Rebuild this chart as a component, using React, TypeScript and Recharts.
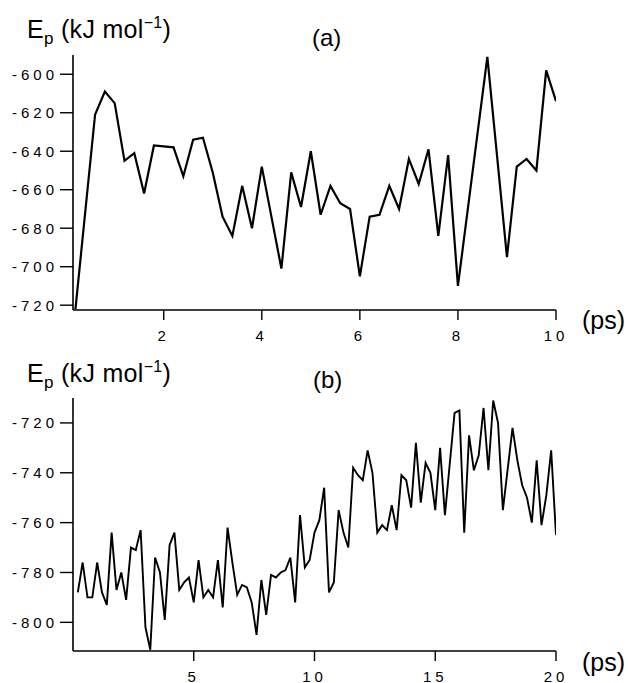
import React from "react";
import { LineChart, Line, XAxis, YAxis } from "recharts";

const timeA = [0.2, 0.6, 0.8, 1.0, 1.2, 1.4, 1.6, 1.8, 2.2, 2.4, 2.6, 2.8, 3.0, 3.2, 3.4, 3.6, 3.8, 4.0, 4.4, 4.6, 4.8, 5.0, 5.2, 5.4, 5.6, 5.8, 6.0, 6.2, 6.4, 6.6, 6.8, 7.0, 7.2, 7.4, 7.6, 7.8, 8.0, 8.6, 9.0, 9.2, 9.4, 9.6, 9.8, 10.0];
const energyA = [-722, -621, -609, -615, -645, -641, -662, -637, -638, -653, -634, -633, -651, -674, -684, -658, -680, -648, -701, -651, -669, -640, -673, -658, -667, -670, -705, -674, -673, -658, -670, -644, -657, -639, -684, -642, -710, -591, -695, -648, -644, -650, -598, -614];

const timeB = [0.2, 0.4, 0.6, 0.8, 1.0, 1.2, 1.4, 1.6, 1.8, 2.0, 2.2, 2.4, 2.6, 2.8, 3.0, 3.2, 3.4, 3.6, 3.8, 4.0, 4.2, 4.4, 4.6, 4.8, 5.0, 5.2, 5.4, 5.6, 5.8, 6.0, 6.2, 6.4, 6.6, 6.8, 7.0, 7.2, 7.4, 7.6, 7.8, 8.0, 8.2, 8.4, 8.6, 8.8, 9.0, 9.2, 9.4, 9.6, 9.8, 10.0, 10.2, 10.4, 10.6, 10.8, 11.0, 11.2, 11.4, 11.6, 11.8, 12.0, 12.2, 12.4, 12.6, 12.8, 13.0, 13.2, 13.4, 13.6, 13.8, 14.0, 14.2, 14.4, 14.6, 14.8, 15.0, 15.2, 15.4, 15.8, 16.0, 16.2, 16.4, 16.6, 16.8, 17.0, 17.2, 17.4, 17.6, 17.8, 18.2, 18.4, 18.6, 18.8, 19.0, 19.2, 19.4, 19.6, 19.8, 20.0];
const energyB = [-788, -776, -790, -790, -776, -788, -793, -764, -787, -780, -791, -770, -771, -763, -802, -811, -774, -780, -799, -769, -764, -787, -784, -782, -792, -775, -790, -787, -790, -775, -794, -762, -776, -789, -785, -786, -792, -805, -783, -797, -781, -782, -780, -779, -774, -792, -757, -778, -775, -764, -759, -746, -788, -784, -755, -764, -770, -738, -741, -743, -731, -740, -764, -761, -763, -753, -763, -741, -743, -754, -728, -752, -736, -740, -755, -730, -757, -716, -715, -764, -725, -739, -733, -714, -739, -711, -720, -755, -722, -735, -745, -750, -760, -735, -761, -749, -731, -765];

const ticksXA = [2, 4, 6, 8, 10];
const ticksYA = [-720, -700, -680, -660, -640, -620, -600];
const ticksXB = [5, 10, 15, 20];
const ticksYB = [-800, -780, -760, -740, -720];

const dataA = timeA.map((t, i) => ({ t, e: energyA[i] }));
const dataB = timeB.map((t, i) => ({ t, e: energyB[i] }));

const FONT = '"Liberation Sans", Arial, Helvetica, sans-serif';
const tickStyle = { fill: "#000", fontSize: 15, fontFamily: FONT, letterSpacing: 4 };
const axisLine = { stroke: "#000", strokeWidth: 1.6 };
const tickLine = { stroke: "#000", strokeWidth: 1.4 };

function Title({ top }: { top: number }) {
  return (
    <div style={{ position: "absolute", left: 27, top, fontSize: 25, fontFamily: FONT, whiteSpace: "nowrap", lineHeight: "normal", letterSpacing: 0.3 }}>
      E<span style={{ fontSize: 17, position: "relative", top: 6 }}>p</span> (kJ mol
      <span style={{ fontSize: 16, position: "relative", top: -10 }}>−1</span>)
    </div>
  );
}

function Lbl({ left, top, text, size }: { left: number; top: number; text: string; size: number }) {
  return (
    <div style={{ position: "absolute", left, top, fontSize: size, fontFamily: FONT, whiteSpace: "nowrap", lineHeight: "normal" }}>
      {text}
    </div>
  );
}

export default function App() {
  return (
    <div style={{ position: "absolute", left: 0, top: 0, width: 628, height: 683, background: "#fff", overflow: "hidden" }}>
      <div style={{ position: "absolute", left: 0, top: 0 }}>
        <LineChart width={628} height={345} data={dataA} margin={{ top: 55, right: 72, bottom: 5, left: 13 }}>
          <XAxis dataKey="t" type="number" domain={[0.15, 10]} ticks={ticksXA} allowDataOverflow
            height={30} tickSize={10} tickMargin={10} axisLine={axisLine} tickLine={tickLine} tick={tickStyle} interval={0} />
          <YAxis type="number" domain={[-722.5, -590]} ticks={ticksYA} allowDataOverflow
            width={60} tickSize={13} tickMargin={2} axisLine={axisLine} tickLine={tickLine} tick={tickStyle} interval={0} />
          <Line dataKey="e" stroke="#000" strokeWidth={2.2} dot={false} isAnimationActive={false} strokeLinejoin="miter" />
        </LineChart>
      </div>
      <div style={{ position: "absolute", left: 0, top: 340 }}>
        <LineChart width={628} height={343} data={dataB} margin={{ top: 58, right: 72, bottom: 2, left: 13 }}>
          <XAxis dataKey="t" type="number" domain={[0, 20]} ticks={ticksXB} allowDataOverflow
            height={30} tickSize={10} tickMargin={10} axisLine={axisLine} tickLine={tickLine} tick={tickStyle} interval={0} />
          <YAxis type="number" domain={[-811.5, -710]} ticks={ticksYB} allowDataOverflow
            width={60} tickSize={13} tickMargin={2} axisLine={axisLine} tickLine={tickLine} tick={tickStyle} interval={0} />
          <Line dataKey="e" stroke="#000" strokeWidth={1.9} dot={false} isAnimationActive={false} strokeLinejoin="miter" />
        </LineChart>
      </div>
      <Title top={15} />
      <Lbl left={312} top={24} text="(a)" size={24} />
      <Lbl left={582} top={306} text="(ps)" size={25} />
      <Title top={359} />
      <Lbl left={313} top={366} text="(b)" size={24} />
      <Lbl left={582} top={648} text="(ps)" size={25} />
    </div>
  );
}
